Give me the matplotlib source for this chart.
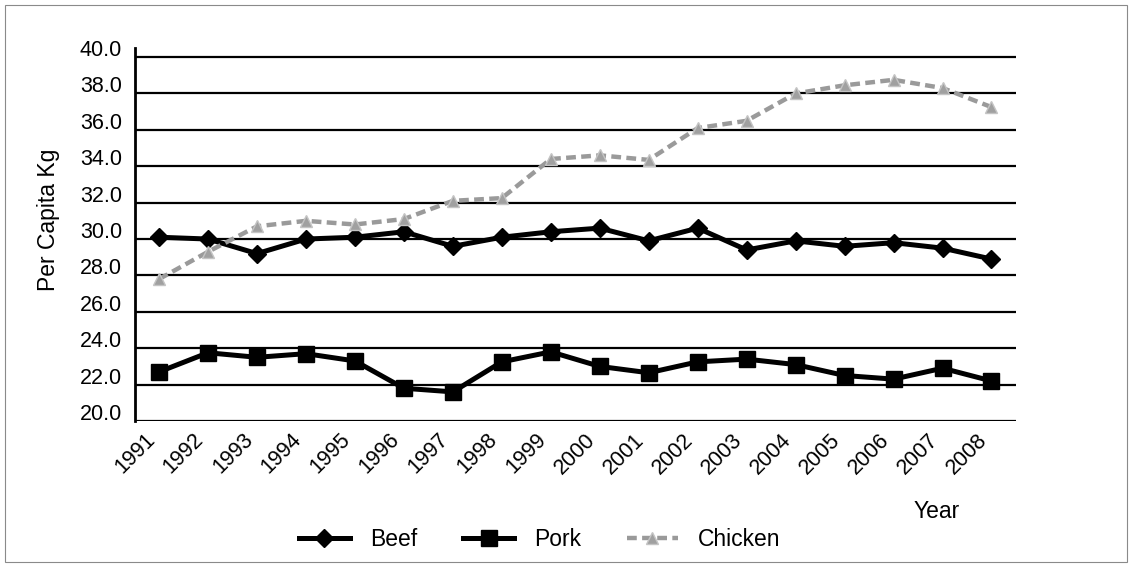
import matplotlib
matplotlib.use("Agg")
import matplotlib.pyplot as plt
from matplotlib.transforms import ScaledTranslation
from matplotlib.patches import Rectangle

years = ["1991", "1992", "1993", "1994", "1995", "1996", "1997", "1998", "1999",
         "2000", "2001", "2002", "2003", "2004", "2005", "2006", "2007", "2008"]
beef = [30.1, 30.0, 29.2, 30.0, 30.1, 30.4, 29.6, 30.1, 30.4,
        30.6, 29.9, 30.6, 29.4, 29.9, 29.6, 29.8, 29.5, 28.9]
pork = [22.7, 23.75, 23.5, 23.7, 23.3, 21.8, 21.6, 23.25, 23.8,
        23.0, 22.65, 23.25, 23.4, 23.1, 22.5, 22.3, 22.9, 22.2]
chicken = [27.8, 29.3, 30.7, 31.0, 30.8, 31.1, 32.1, 32.25, 34.4,
           34.6, 34.35, 36.1, 36.5, 38.0, 38.45, 38.75, 38.3, 37.25]
yticks = [20.0, 22.0, 24.0, 26.0, 28.0, 30.0, 32.0, 34.0, 36.0, 38.0, 40.0]

plt.rcParams["font.family"] = ["Liberation Sans", "DejaVu Sans"]

fig = plt.figure(figsize=(11.30, 5.66), dpi=100)
ax = fig.add_axes([0.1191, 0.2562, 0.7800, 0.6590])

x = list(range(len(years)))
ax.plot(x, beef, color="black", lw=3.6, marker="D", markersize=9,
        markerfacecolor="black", markeredgecolor="black", label="Beef", zorder=4)
ax.plot(x, pork, color="black", lw=3.6, marker="s", markersize=11.5,
        markerfacecolor="black", markeredgecolor="black", label="Pork", zorder=4)
ax.plot(x, chicken, color="#9a9a9a", lw=3.2, ls=(0, (2.2, 1.2)), marker="^",
        markersize=9, markerfacecolor="#a0a0a0", markeredgecolor="#c4c4c4",
        markeredgewidth=1.0, label="Chicken", zorder=5)

ax.set_xlim(-0.5, len(years) - 0.5)
ax.set_ylim(20, 40.5)
ax.set_yticks(yticks)
ax.set_yticklabels([f"{v:.1f}" for v in yticks], fontsize=15.5)
ax.set_xticks(x)
ax.set_xticklabels(years, fontsize=15.5, rotation=45, ha="right", va="top")
ax.tick_params(axis="both", length=0)
ax.tick_params(axis="y", pad=9)
ax.tick_params(axis="x", pad=6)

# y tick labels sit a little above their gridlines
shift = ScaledTranslation(0, 9 / 100, fig.dpi_scale_trans)
for lbl in ax.get_yticklabels():
    lbl.set_transform(lbl.get_transform() + shift)

ax.yaxis.grid(True, color="black", lw=1.6)
ax.set_axisbelow(True)
for s in ("top", "right", "bottom"):
    ax.spines[s].set_visible(False)
ax.spines["left"].set_linewidth(2.0)

fig.text(48 / 1130, 1 - 220 / 566, "Per Capita Kg", rotation=90,
         ha="center", va="center", fontsize=16.5)
fig.text(937 / 1130, 1 - 512 / 566, "Year", ha="center", va="center", fontsize=16.5)

fig.legend(loc="center", bbox_to_anchor=(540 / 1130, 1 - 540 / 566), ncol=3,
           frameon=False, fontsize=16.5, handlelength=2.2, handletextpad=0.9,
           columnspacing=2.0)

fig.patches.append(Rectangle((5 / 1130, 4 / 566), 1122 / 1130, 557 / 566,
                             transform=fig.transFigure, fill=False,
                             edgecolor="#8a8a8a", lw=0.8))

fig.savefig("out.png", dpi=100)
